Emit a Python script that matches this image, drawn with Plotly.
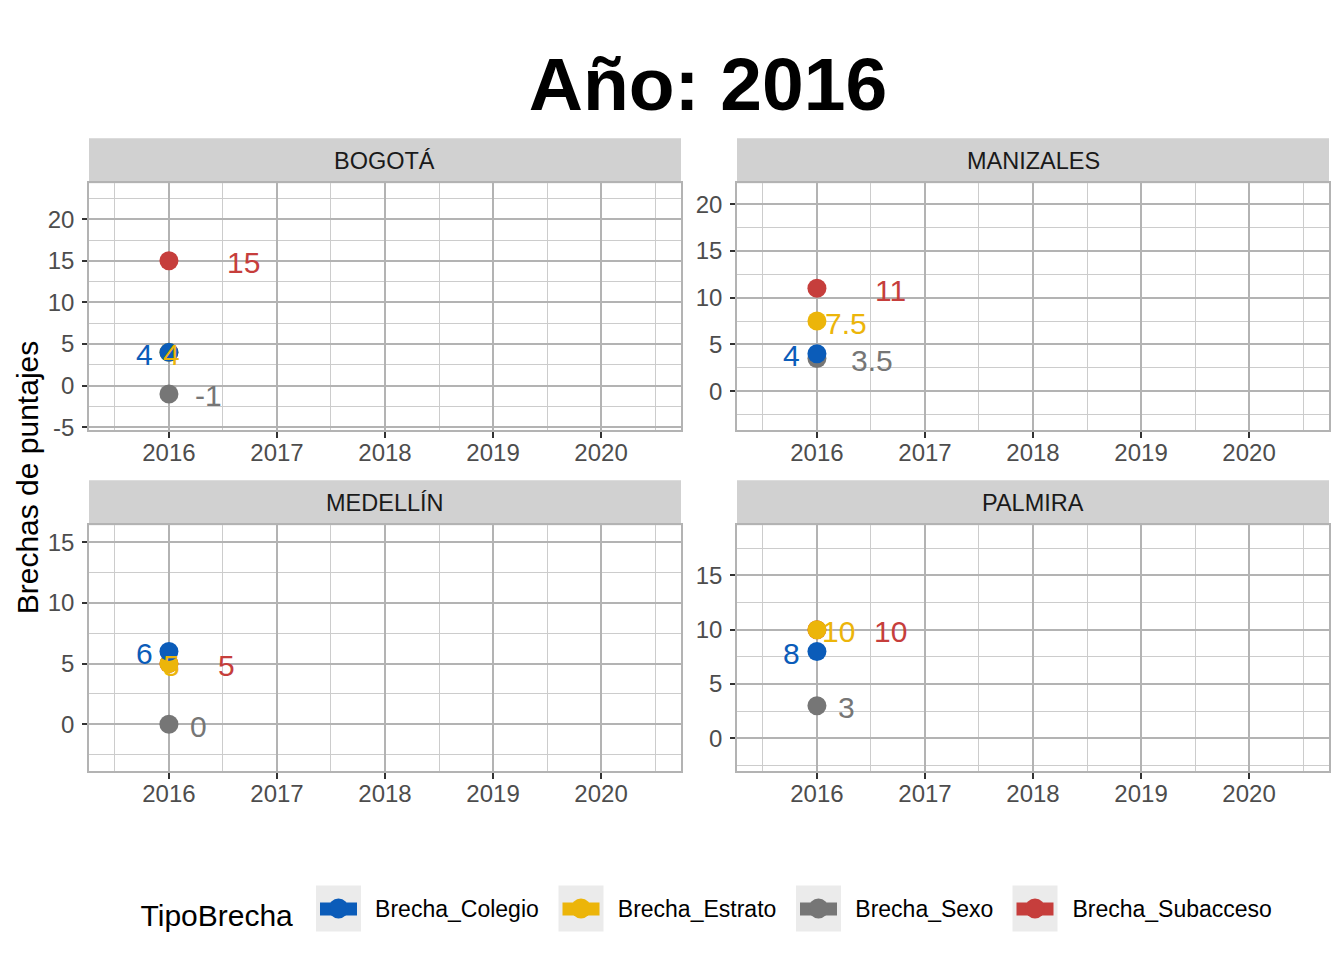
import plotly.graph_objects as go

# datos del cuadro (año 2016)
ciudades = ["BOGOTÁ", "MANIZALES", "MEDELLÍN", "PALMIRA"]
anio = 2016
tipos = ["Brecha_Colegio", "Brecha_Estrato", "Brecha_Sexo", "Brecha_Subacceso"]
brecha_colegio = [4, 4, 6, 8]
brecha_estrato = [4, 7.5, 5, 10]
brecha_sexo = [-1, 3.5, 0, 3]
brecha_subacceso = [15, 11, 5, 10]
anios_eje = [2016, 2017, 2018, 2019, 2020]
ticks_y = [[-5, 0, 5, 10, 15, 20], [0, 5, 10, 15, 20], [0, 5, 10, 15], [0, 5, 10, 15]]

valores = {
    "Brecha_Colegio": brecha_colegio,
    "Brecha_Estrato": brecha_estrato,
    "Brecha_Sexo": brecha_sexo,
    "Brecha_Subacceso": brecha_subacceso,
}
colores = {
    "Brecha_Colegio": "#0B5CB9",
    "Brecha_Estrato": "#ECB50A",
    "Brecha_Sexo": "#767676",
    "Brecha_Subacceso": "#C63E3C",
}
# desplazamiento de las etiquetas (px) por panel
desp_etiquetas = {
    "Brecha_Colegio": [-24, -25, -24, -25],
    "Brecha_Estrato": [3, 29, 3, 22],
    "Brecha_Sexo": [40, 55, 30, 30],
    "Brecha_Subacceso": [75, 74, 58, 74],
}
# centro (px) de cada clave de la leyenda, donde plotly pone el simbolo
centros_clave = [338.5, 581, 818.5, 1035]

FUENTE = "Liberation Sans, Arial, Helvetica, sans-serif"
# la pagina tiene 8px de margen en el body; la captura sale un poco comprimida en vertical
OFF = 8
ESC_V = 0.989
W, H = 1344 - 2 * OFF, 960 - 2 * OFF


def xp(px):
    return (px - OFF) / W


def yp(py):
    return 1 - (py / ESC_V - OFF) / H


# rectangulos de cada panel en px (izq, der, arriba, abajo)
paneles = [(89, 681, 183, 430), (737, 1329, 183, 430),
           (89, 681, 525, 771), (737, 1329, 525, 771)]
rangos_y = [[-5.36, 24.33], [-4.17, 22.24], [-3.88, 16.4], [-3.03, 19.6]]
alto_tira = 45

fig = go.Figure()

# orden de dibujo inverso: Colegio queda arriba
for k, tipo in reversed(list(enumerate(tipos))):
    for i, ciudad in enumerate(ciudades):
        sfx = "" if i == 0 else str(i + 1)
        fig.add_trace(go.Scatter(
            x=[anio], y=[valores[tipo][i]],
            mode="markers",
            name=tipo, legendgroup=tipo, legendrank=k + 1,
            showlegend=(i == 0),
            marker=dict(size=19, color=colores[tipo]),
            xaxis="x" + sfx, yaxis="y" + sfx,
            hovertemplate=ciudad + "<br>%{y}<extra>" + tipo + "</extra>",
        ))

anotaciones = []
formas = []
ejes = {}
for i, ciudad in enumerate(ciudades):
    sfx = "" if i == 0 else str(i + 1)
    x0, x1, yt, yb = paneles[i]
    ejes["xaxis" + sfx] = dict(
        domain=[xp(x0), xp(x1)], anchor="y" + sfx,
        range=[2015.26, 2020.74], tickvals=anios_eje,
        ticks="outside", ticklen=6, tickwidth=1.5, tickcolor="#333333",
        tickfont=dict(size=24, color="#4D4D4D"), ticklabelstandoff=-6,
        showgrid=True, gridcolor="#B3B3B3", gridwidth=2,
        minor=dict(dtick=0.5, tick0=2015.5, showgrid=True,
                   gridcolor="#CCCCCC", gridwidth=1),
        showline=True, linecolor="#B3B3B3", linewidth=1.5, mirror=True,
        zeroline=False, fixedrange=True,
    )
    ejes["yaxis" + sfx] = dict(
        domain=[yp(yb), yp(yt)], anchor="x" + sfx,
        range=rangos_y[i], tickvals=ticks_y[i],
        ticktext=[f"{v:g}" for v in ticks_y[i]],
        ticks="outside", ticklen=5, tickwidth=1.5, tickcolor="#333333",
        tickfont=dict(size=24, color="#4D4D4D"), ticklabelstandoff=3,
        showgrid=True, gridcolor="#B3B3B3", gridwidth=2,
        minor=dict(dtick=2.5, tick0=0, showgrid=True,
                   gridcolor="#CCCCCC", gridwidth=1),
        showline=True, linecolor="#B3B3B3", linewidth=1.5, mirror=True,
        zeroline=False, fixedrange=True,
    )
    # tira del facet
    formas.append(dict(type="rect", xref="paper", yref="paper",
                       x0=xp(x0), x1=xp(x1), y0=yp(yt), y1=yp(yt - alto_tira),
                       fillcolor="#D1D1D1", line=dict(width=0), layer="below"))
    anotaciones.append(dict(text=ciudad, xref="paper", yref="paper",
                            x=xp((x0 + x1) / 2), y=yp(yt - alto_tira / 2),
                            showarrow=False, xanchor="center", yanchor="middle",
                            font=dict(size=23.5, color="#1A1A1A", family=FUENTE)))
    # etiquetas de valores
    for tipo in tipos:
        v = valores[tipo][i]
        anotaciones.append(dict(
            text=f"{v:g}", x=anio, y=v, xref="x" + sfx, yref="y" + sfx,
            showarrow=False, xanchor="center", yanchor="middle",
            xshift=desp_etiquetas[tipo][i], yshift=-2,
            font=dict(size=30, color=colores[tipo], family=FUENTE)))

# fondo gris, barra y punto de cada clave de la leyenda
for tipo, cx in zip(tipos, centros_clave):
    formas.append(dict(type="rect", xref="paper", yref="paper",
                       x0=xp(cx - 22.5), x1=xp(cx + 22.5), y0=yp(931), y1=yp(885),
                       fillcolor="#EBEBEB", line=dict(width=0), layer="below"))
    formas.append(dict(type="rect", xref="paper", yref="paper",
                       x0=xp(cx - 18.5), x1=xp(cx + 18.5), y0=yp(915), y1=yp(902),
                       fillcolor=colores[tipo], line=dict(width=0), layer="below"))
    formas.append(dict(type="circle", xref="paper", yref="paper",
                       x0=xp(cx - 10), x1=xp(cx + 10), y0=yp(918), y1=yp(898),
                       fillcolor=colores[tipo], line=dict(width=0), layer="below"))

anotaciones.append(dict(text="Brechas de puntajes", xref="paper", yref="paper",
                        x=xp(27), y=yp(477), textangle=-90, showarrow=False,
                        xanchor="center", yanchor="middle",
                        font=dict(size=30, color="#000000", family=FUENTE)))

fig.update_layout(
    width=W, height=H,
    margin=dict(l=0, r=0, t=0, b=0),
    paper_bgcolor="white", plot_bgcolor="white",
    font=dict(family=FUENTE),
    title=dict(text="Año: 2016", x=xp(708), xanchor="center",
               y=yp(83), yanchor="middle",
               font=dict(size=75, color="#000000", weight="bold", family=FUENTE)),
    legend=dict(orientation="h", x=xp(708), xanchor="center",
                y=yp(911), yanchor="middle", itemwidth=64,
                bgcolor="rgba(0,0,0,0)",
                title=dict(text="TipoBrecha", side="left",
                           font=dict(size=30, color="#000000")),
                font=dict(size=23, color="#000000"),
                itemsizing="trace", traceorder="normal"),
    shapes=formas,
    annotations=anotaciones,
    showlegend=True,
    **ejes,
)

fig.write_html("out.html")
